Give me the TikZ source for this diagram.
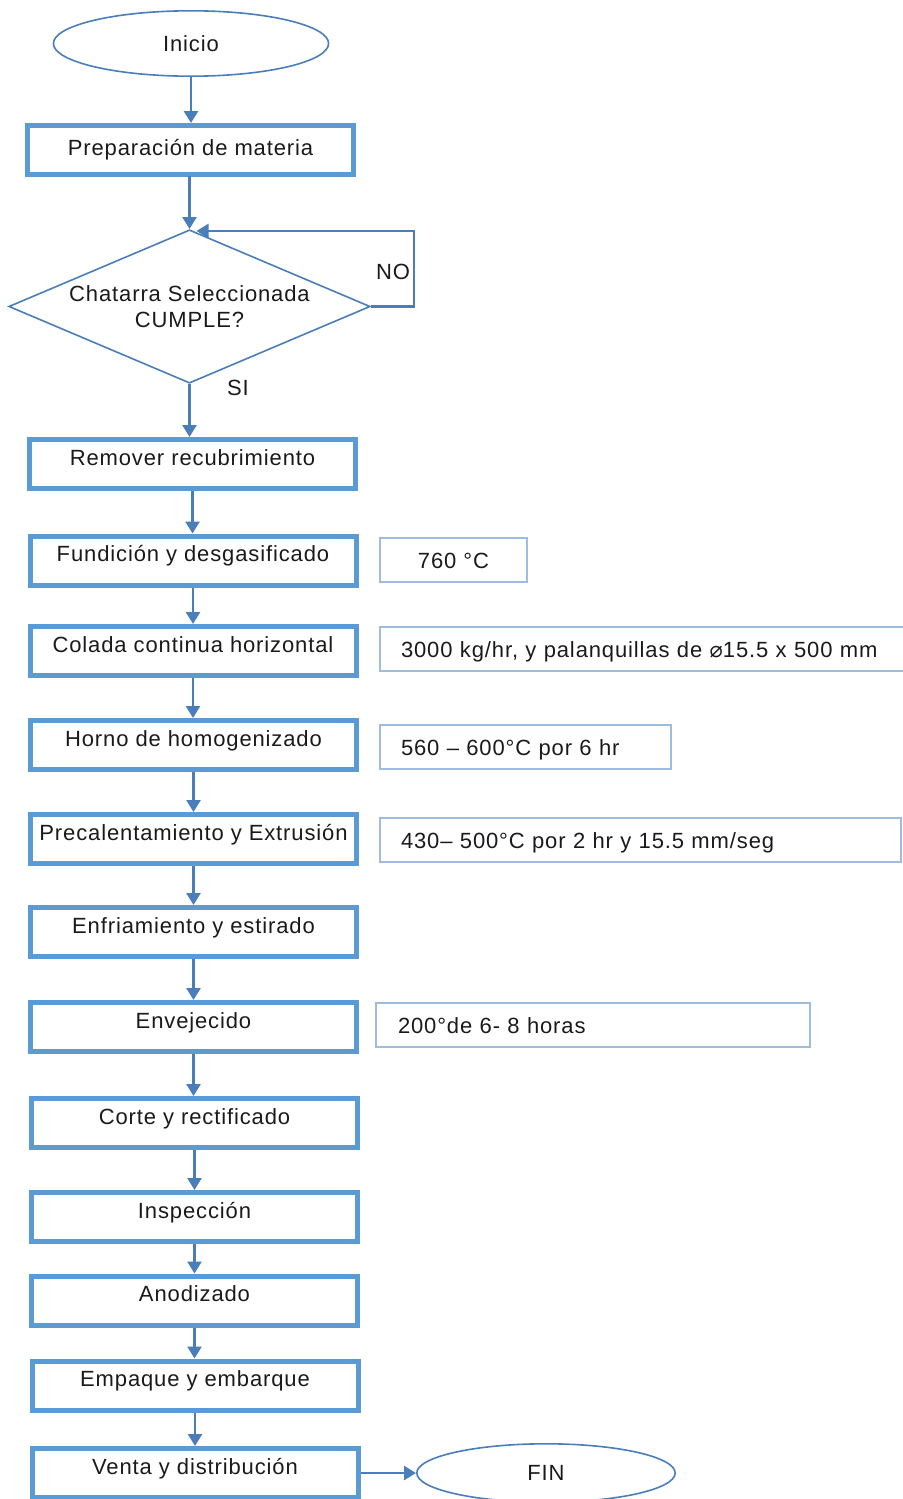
\documentclass[tikz,border=0pt]{standalone}
\usepackage{fontspec}
\setmainfont{Liberation Sans}[LetterSpace=4]
\newfontfamily\symfont{DejaVu Sans}
\usetikzlibrary{shapes.geometric,arrows.meta}
\definecolor{boxblue}{HTML}{5B9BD5}
\definecolor{linkblue}{HTML}{4A7EBB}
\definecolor{noteblue}{HTML}{9DBCE0}
\definecolor{ink}{HTML}{1A1A1A}
\begin{document}
\begin{tikzpicture}[x=0.5pt,y=-0.5pt,
  every node/.style={font=\fontsize{11}{12.5}\selectfont, text=ink},
  procbox/.style={rectangle, draw=boxblue, line width=2.5pt, minimum width=163pt,
    minimum height=24.5pt, inner sep=0pt, text height=6pt, text depth=5pt},
  notebox/.style={rectangle, draw=noteblue, line width=1pt, minimum height=22pt,
    inner ysep=0pt, inner xsep=10.5pt, align=left, anchor=west,
    text height=9pt, text depth=0.5pt},
  terminal/.style={ellipse, draw=linkblue, line width=0.8pt, inner sep=0pt},
  decision/.style={diamond, draw=linkblue, line width=0.8pt, aspect=2.34,
    inner sep=0pt, align=center, minimum width=180.7pt, minimum height=76.7pt},
  link/.style={draw=linkblue, line width=1.3pt, -{Triangle[width=7pt,length=6pt]}},
  tag/.style={inner sep=0pt}
]
\useasboundingbox (0,0) rectangle (903,1499);

% start and main process chain
\node[terminal, minimum width=137.6pt, minimum height=32.7pt] (ini) at (191,43.5) {Inicio};
\node[procbox, text height=, text depth=] (prep) at (190.5,150) {Preparación de materia};
\node[decision] (dec) at (189.5,306.5) {Chatarra Seleccionada\\[0.5pt]CUMPLE?};
\node[procbox] (rem)   at (192.5,464)  {Remover recubrimiento};
\node[procbox] (fund)  at (193,560.5)  {Fundición y desgasificado};
\node[procbox] (col)   at (193,651)    {Colada continua horizontal};
\node[procbox] (horno) at (193.5,745)  {Horno de homogenizado};
\node[procbox] (prec)  at (193.5,839)  {Precalentamiento y Extrusión};
\node[procbox] (enf)   at (193.5,932)  {Enfriamiento y estirado};
\node[procbox] (env)   at (193.5,1027) {Envejecido};
\node[procbox] (cor)   at (194.5,1123) {Corte y rectificado};
\node[procbox] (insp)  at (194.5,1217) {Inspección};
\node[procbox] (anod)  at (194.5,1300.5) {Anodizado};
\node[procbox] (emp)   at (195,1385.5) {Empaque y embarque};
\node[procbox] (vta)   at (195,1473)   {Venta y distribución};
\node[terminal, minimum width=129.2pt, minimum height=29.2pt] (fin) at (546,1473) {FIN};

% process parameters
\node[notebox, minimum width=73.5pt, align=center, inner xsep=0pt] (n1) at (379,560) {760 °C};
\node[notebox, text width=260pt] (n2) at (379,649) {3000 kg/hr, y palanquillas de {\symfont ⌀}15.5 x 500 mm};
\node[notebox, text width=124.5pt] (n3) at (379,746.5) {560 – 600°C por 6 hr};
\node[notebox, text width=239.5pt] (n4) at (379,839.5) {430– 500°C por 2 hr y 15.5 mm/seg};
\node[notebox, text width=195pt, inner xsep=11pt] (n5) at (375,1025) {200°de 6- 8 horas};

% decision labels
\node[tag] (no) at (393,272) {NO};
\node[tag] (si) at (238,388) {SI};

% connectors
\draw[link] (ini.south) -- (ini.south |- prep.north);
\draw[link] (prep.south) -- (prep.south -| dec.north) -- (dec.north);
\draw[link] (dec.east) -- ++(43,0) |- ([xshift=3.5pt,yshift=-1pt]dec.north);
\draw[link] (dec.south) -- (dec.south |- rem.north);
\foreach \a/\b in {rem/fund, fund/col, col/horno, horno/prec, prec/enf, enf/env,
                   env/cor, cor/insp, insp/anod, anod/emp, emp/vta}
  \draw[link] (\a.south) -- (\a.south |- \b.north);
\draw[link] (vta.east) -- (fin.west);
\end{tikzpicture}
\end{document}
